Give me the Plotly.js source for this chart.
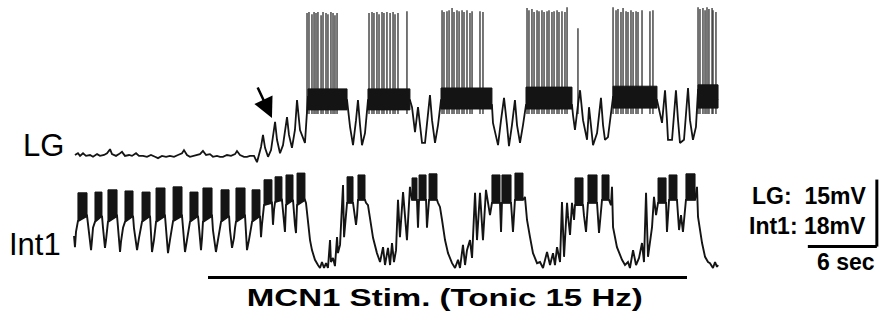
<!DOCTYPE html>
<html><head><meta charset="utf-8">
<script src="https://cdn.plot.ly/plotly-3.0.1.min.js"></script>
<style>html,body{margin:0;padding:0;background:#fff;}#chart{width:880px;height:324px;}</style>
</head><body><div id="chart"></div>
<script>
// ---------- LG recording: slow membrane potential (time s, relative mV) ----------
const lgTime = [
 0.17,0.43,0.61,0.87,1.13,1.48,1.74,2.09,2.35,2.70,
 2.96,3.22,3.39,3.74,4.00,4.26,4.52,4.87,5.13,5.48,
 5.74,6.09,6.43,6.78,7.13,7.39,7.74,8.09,8.43,8.78,
 9.13,9.48,9.65,9.91,10.17,10.43,10.78,11.04,11.30,11.57,
 11.91,12.17,12.52,12.78,13.04,13.39,13.74,14.09,14.26,14.52,
 14.87,15.13,15.39,15.74,16.00,16.09,16.35,16.52,16.70,16.96,
 17.22,17.57,17.74,18.00,18.26,18.61,18.78,19.04,19.30,19.48,
 19.74,20.17,20.35,20.43,22.17,23.83,24.09,24.35,24.61,24.78,
 24.96,25.13,25.39,25.65,27.48,29.30,29.48,29.74,30.00,30.17,
 30.35,30.61,30.87,31.04,31.22,31.48,31.74,32.00,34.17,36.43,
 36.52,36.96,37.22,37.48,37.74,37.91,38.17,38.43,38.61,38.87,
 39.13,39.39,41.39,43.39,43.48,43.65,43.91,44.09,44.35,44.70,
 44.87,45.04,45.22,45.57,45.74,45.91,46.09,46.26,46.52,46.78,
 46.96,48.87,50.78,51.22,51.48,51.65,51.74,52.09,52.26,52.43,
 52.61,52.78,53.13,53.30,53.48,53.65,53.91,54.17,54.35,55.22,
 56.09];
const lgVolt = [
 0.0,0.4,-0.2,0.4,-0.2,0.0,-0.4,0.2,-0.2,0.0,
 0.4,1.3,0.2,-0.2,0.2,0.7,-0.2,0.0,-0.2,0.4,
 -0.2,-0.2,-0.4,0.0,-0.4,-0.7,-0.2,-0.4,-0.2,-0.4,
 0.0,0.4,1.1,0.0,-0.4,-0.2,0.0,0.2,0.9,0.0,
 0.2,-0.4,-0.2,-0.4,-0.4,0.0,-0.2,0.2,0.9,0.0,
 -0.4,-0.4,-0.2,-0.2,-1.6,-0.7,1.8,4.5,1.6,-0.4,
 1.1,7.4,3.4,0.4,2.2,8.5,4.5,1.6,5.6,12.3,
 5.6,2.7,11.2,13.0,12.8,12.3,6.3,2.2,7.8,12.3,
 6.7,2.2,4.9,12.3,12.8,12.3,10.7,5.1,10.7,6.7,
 2.7,2.7,8.9,13.4,7.8,2.7,6.7,12.3,12.8,11.2,
 7.2,2.2,7.8,12.8,6.7,2.0,6.7,12.3,6.7,2.7,
 6.7,11.2,13.0,11.2,8.9,5.6,11.2,14.5,7.8,3.4,
 10.7,6.7,2.2,4.9,8.9,12.8,6.7,3.4,4.0,8.9,
 13.0,13.2,12.3,7.2,14.5,7.8,3.4,3.4,8.9,14.5,
 7.8,2.7,3.4,8.9,15.0,7.8,3.4,6.3,14.5,13.4,
 12.3];

// LG burst plateaus (dense firing band)
const lgBurstOn  = [20.43, 25.65, 32.00, 39.39, 46.96, 54.35];
const lgBurstOff = [23.83, 29.30, 36.43, 43.39, 50.78, 56.09];
const lgBandHigh = [14.8, 14.8, 15.0, 15.2, 15.4, 15.7];
const lgBandLow  = [10.1, 10.1, 10.3, 10.3, 10.5, 10.5];

// LG action potentials (time s, peak mV)
const lgSpikeTime = [
 20.35,20.52,20.78,20.96,21.13,21.30,21.57,21.74,22.00,22.17,22.43,22.61,22.78,22.96,
 25.74,26.00,26.17,26.43,26.61,26.87,27.04,27.30,27.57,27.83,28.00,28.26,29.04,
 32.09,32.26,32.52,32.70,32.96,33.13,33.39,33.57,33.83,34.00,34.26,34.52,34.70,35.39,35.65,
 39.48,39.65,39.91,40.09,40.35,40.52,40.78,40.96,41.22,41.39,41.65,41.83,42.09,42.26,42.52,42.78,42.96,43.91,
 46.96,47.22,47.39,47.65,47.83,48.09,48.26,48.52,48.70,48.96,49.13,49.48,50.17,50.43,
 54.35,54.52,54.78,54.96,55.13,55.30,55.57,55.65,55.91];
const lgSpikePeak = [
 31.8,32.0,31.5,32.0,31.8,32.0,31.3,32.0,31.8,31.5,32.0,31.8,31.3,31.8,
 31.8,32.0,31.8,32.0,31.5,32.0,31.8,32.0,31.8,32.0,31.5,31.8,32.2,
 32.4,32.0,32.2,32.4,32.9,32.0,32.4,32.2,32.4,32.0,32.4,31.8,32.2,32.2,32.0,
 32.9,32.4,32.7,32.0,32.4,32.2,32.4,32.0,32.2,32.4,32.0,32.2,32.4,32.0,32.2,32.0,33.1,28.4,
 33.1,32.4,32.7,32.0,32.9,32.2,32.0,32.4,32.0,32.2,32.0,32.4,32.2,32.4,
 33.1,32.7,32.9,32.4,33.1,32.7,32.9,32.4,32.0];
const lgSpikeFoot = 9.2;

// ---------- Int1 recording (time s, relative mV) ----------
const int1Time = [
 0.09,0.17,0.26,0.35,0.43,1.22,1.30,1.48,1.57,1.65,
 1.74,1.91,2.52,2.61,2.70,2.78,2.87,2.96,3.04,3.83,
 3.91,4.00,4.09,4.17,4.35,4.52,5.22,5.30,5.48,5.57,
 5.74,5.91,6.00,6.70,6.78,6.87,7.04,7.13,7.22,8.00,
 8.09,8.26,8.43,8.61,8.70,9.48,9.57,9.74,9.91,10.09,
 10.17,10.87,10.96,11.13,11.22,11.30,12.09,12.17,12.43,12.61,
 12.78,12.87,13.57,13.65,13.83,14.00,14.09,14.17,14.96,15.04,
 15.13,15.30,15.48,15.57,16.26,16.35,16.43,16.61,17.30,17.39,
 17.48,17.57,18.17,18.35,18.43,18.52,19.13,19.30,19.39,19.48,
 20.17,20.26,20.43,20.61,20.78,21.04,21.30,21.48,21.65,21.83,
 22.00,22.17,22.35,22.43,22.61,22.78,22.96,23.04,23.22,23.48,
 23.57,23.74,23.83,24.35,24.52,24.61,24.70,24.78,25.39,25.48,
 25.65,25.83,26.09,26.43,26.70,26.96,27.13,27.39,27.57,27.74,
 27.91,28.09,28.26,28.43,28.70,29.04,29.30,29.48,29.91,30.00,
 30.09,30.70,30.78,30.96,31.65,31.74,31.91,32.09,32.35,32.61,
 32.96,33.22,33.48,33.65,33.91,34.09,34.26,34.52,34.70,34.96,
 35.13,35.39,35.65,35.91,36.09,36.26,36.43,37.13,37.22,37.30,
 38.09,38.26,38.43,39.13,39.30,39.48,39.74,40.00,40.35,40.61,
 40.87,41.22,41.48,41.74,41.91,42.09,42.35,42.52,42.70,42.96,
 43.04,43.22,43.39,43.57,43.65,44.35,44.43,44.61,44.78,45.57,
 45.74,46.00,46.61,46.78,46.87,46.96,47.30,47.74,48.00,48.26,
 48.43,48.70,48.96,49.22,49.48,49.65,49.83,50.00,50.35,50.52,
 50.70,50.87,51.57,51.65,51.83,52.52,52.70,52.87,53.04,53.30,
 54.09,54.26,54.35,54.70,54.96,55.22,55.39,55.65,55.83,56.00,
 56.09];
const int1Volt = [
 8.6,5.6,9.7,11.8,12.6,14.0,11.6,6.2,4.8,7.5,
 10.8,12.4,14.0,10.8,6.7,5.4,7.5,10.8,12.4,14.0,
 10.2,6.2,4.3,7.0,10.8,12.4,14.0,10.8,6.2,4.8,
 8.1,11.3,12.4,14.0,10.2,4.3,7.5,10.8,12.4,14.0,
 10.2,4.0,7.5,10.8,12.6,14.0,10.2,4.3,7.5,11.0,
 12.4,14.0,10.2,4.8,8.1,12.4,14.0,10.2,4.3,7.5,
 10.8,12.4,14.0,10.2,5.4,8.1,10.8,12.4,14.0,9.7,
 4.8,7.5,10.8,12.4,14.0,8.3,11.6,16.9,17.5,11.6,
 15.6,17.7,18.3,11.6,9.7,16.9,18.3,11.6,9.4,16.9,
 18.3,17.5,11.6,7.5,4.8,2.2,0.8,0.0,1.6,0.0,
 1.3,0.0,7.5,1.6,2.7,0.5,8.3,4.0,6.2,22.3,
 8.3,14.2,17.5,17.5,14.2,11.6,14.2,18.3,18.3,17.5,
 16.9,12.9,8.1,4.0,1.6,5.6,0.8,5.4,0.8,6.7,
 1.6,4.8,18.3,8.3,20.4,7.5,21.8,18.3,18.3,10.8,
 18.3,18.3,10.8,18.3,18.3,17.5,16.4,12.9,7.5,4.0,
 1.3,0.0,2.2,0.0,6.2,0.8,4.8,7.5,2.7,20.2,
 7.5,20.2,7.5,21.0,16.9,14.2,17.5,17.5,9.7,17.5,
 17.5,9.7,18.3,18.3,19.1,12.9,8.3,4.0,1.3,1.6,
 0.0,4.3,0.8,4.0,0.8,5.6,1.6,17.7,3.0,17.5,
 14.2,8.9,17.5,12.9,16.9,16.9,14.2,9.7,17.5,17.5,
 9.4,18.3,18.3,16.9,21.8,11.0,5.6,2.2,0.8,1.6,
 0.0,4.8,0.8,2.7,6.7,1.6,20.2,3.0,11.0,19.1,
 14.2,17.5,17.5,9.7,18.3,18.3,10.2,14.2,9.7,18.3,
 18.3,21.8,13.7,6.7,3.0,1.6,1.3,0.0,1.6,0.3,
 0.8];

// Int1 bursts (dense spiking blocks)
const int1BurstOn  = [0.43,1.91,3.04,4.52,6.00,7.22,8.70,10.17,11.30,12.87,14.17,15.57,16.61,17.57,18.52,19.48,
 23.83,24.78,29.48,30.09,30.96,36.43,37.30,38.43,43.65,44.78,46.00,50.87,51.83,53.30];
const int1BurstOff = [1.22,2.52,3.83,5.22,6.70,8.00,9.48,10.87,12.09,13.57,14.96,16.26,17.30,18.17,19.13,20.17,
 24.35,25.39,29.91,30.70,31.65,37.13,38.09,39.13,44.35,45.57,46.61,51.57,52.52,54.09];
const int1BurstPeak = [20.2,20.4,21.0,20.7,20.4,21.5,21.8,20.4,21.5,21.0,21.5,21.0,23.7,24.5,25.0,25.5,
 24.5,25.0,24.2,25.0,25.3,25.0,25.0,25.5,24.2,25.0,25.0,24.2,25.0,25.3];
const int1BurstFloorOn = [12.6,12.4,12.4,12.4,12.4,12.4,12.6,12.4,12.4,12.4,12.4,12.4,16.9,17.7,16.9,16.9,
 17.5,18.3,18.3,18.3,18.3,17.5,17.5,18.3,16.9,17.5,18.3,17.5,18.3,18.3];
const int1BurstFloorOff = [14.0,14.0,14.0,14.0,14.0,14.0,14.0,14.0,14.0,14.0,14.0,14.0,17.5,18.3,18.3,18.3,
 17.5,18.3,18.3,18.3,18.3,17.5,17.5,18.3,16.9,17.5,18.3,17.5,18.3,18.3];

// Stimulus and scale bars
const stimOn = 11.74, stimOff = 53.39;
const scaleSec = 6, scaleLG = 15, scaleInt1 = 18;

function same(a,b,n){ if(a.length!==b.length) throw new Error(n+': '+a.length+' vs '+b.length); }
same(lgTime,lgVolt,'lg'); same(lgSpikeTime,lgSpikePeak,'lgSpike');
same(int1Time,int1Volt,'int1'); same(int1BurstOn,int1BurstOff,'b1'); same(int1BurstOn,int1BurstPeak,'b2');
same(int1BurstOn,int1BurstFloorOn,'b3'); same(int1BurstOn,int1BurstFloorOff,'b4');

const ink = '#141414';

const bandX=[], bandY=[];
lgBurstOn.forEach((on,i)=>{
 const off=lgBurstOff[i];
 bandX.push(on,off,off,on,on,null); bandY.push(lgBandLow[i],lgBandLow[i],lgBandHigh[i],lgBandHigh[i],lgBandLow[i],null);
});
const spX=[], spY=[];
lgSpikeTime.forEach((t,i)=>{ spX.push(t,t,null); spY.push(lgSpikeFoot,lgSpikePeak[i],null); });
const blkX=[], blkY=[];
int1BurstOn.forEach((on,i)=>{ const off=int1BurstOff[i]; blkX.push(on,on,off,off,on,null); blkY.push(int1BurstFloorOn[i],int1BurstPeak[i],int1BurstPeak[i],int1BurstFloorOff[i],int1BurstFloorOn[i],null); });

const traces = [
 {x:spX,y:spY,mode:'lines',line:{color:'#3c3c3c',width:1.4},yaxis:'y',hoverinfo:'skip'},
 {x:lgTime,y:lgVolt,mode:'lines',line:{color:ink,width:1.8},yaxis:'y',hoverinfo:'skip'},
 {x:bandX,y:bandY,mode:'lines',fill:'toself',fillcolor:ink,line:{color:ink,width:1},yaxis:'y',hoverinfo:'skip'},
 {x:blkX,y:blkY,mode:'lines',fill:'toself',fillcolor:ink,line:{color:ink,width:1},yaxis:'y2',hoverinfo:'skip'},
 {x:int1Time,y:int1Volt,mode:'lines',line:{color:ink,width:1.9},yaxis:'y2',hoverinfo:'skip'}
];

const pxPerSec = 11.5, x0px = 73;
const lgZeroPx = 155, lgPxPerMv = 67/scaleLG;
const i1ZeroPx = 268, i1PxPerMv = 67/scaleInt1;
const W=880,H=324;
const barT = 69.9, barV = -20.5;
const stimV = -2.55;

const font = 'Liberation Sans, Arial, Helvetica, sans-serif';
const layout = {
 width:W,height:H,margin:{l:0,r:0,t:0,b:0},paper_bgcolor:'#fff',plot_bgcolor:'#fff',showlegend:false,
 xaxis:{range:[-x0px/pxPerSec,(W-x0px)/pxPerSec],visible:false,fixedrange:true},
 yaxis:{range:[(lgZeroPx-H)/lgPxPerMv,lgZeroPx/lgPxPerMv],visible:false,fixedrange:true},
 yaxis2:{range:[(i1ZeroPx-H)/i1PxPerMv,i1ZeroPx/i1PxPerMv],visible:false,overlaying:'y',fixedrange:true},
 shapes:[
  {type:'line',xref:'x',yref:'y2',x0:stimOn,x1:stimOff,y0:stimV,y1:stimV,line:{color:'#000',width:3}},
  {type:'line',xref:'x',yref:'y',x0:barT-scaleSec,x1:barT,y0:barV,y1:barV,line:{color:'#000',width:3}},
  {type:'line',xref:'x',yref:'y',x0:barT,x1:barT,y0:barV,y1:barV+scaleLG,line:{color:'#000',width:3}}
 ],
 annotations:[
  {text:'LG',xref:'paper',yref:'paper',x:66/W,y:1-145/H,xanchor:'right',yanchor:'middle',showarrow:false,font:{family:font,size:31,color:'#000'}},
  {text:'Int1',xref:'paper',yref:'paper',x:63/W,y:1-244/H,xanchor:'right',yanchor:'middle',showarrow:false,font:{family:font,size:31,color:'#000'}},
  {text:'LG:\u00a0\u00a015mV',xref:'paper',yref:'paper',x:868/W,y:1-196/H,xanchor:'right',yanchor:'middle',showarrow:false,font:{family:font,size:23,color:'#000',weight:700}},
  {text:'Int1: 18mV',xref:'paper',yref:'paper',x:868/W,y:1-226/H,xanchor:'right',yanchor:'middle',showarrow:false,font:{family:font,size:23,color:'#000',weight:700}},
  {text:'6 sec',xref:'paper',yref:'paper',x:846/W,y:1-262/H,xanchor:'center',yanchor:'middle',showarrow:false,font:{family:font,size:23,color:'#000',weight:700}},
  {text:'MCN1 Stim. (Tonic 15 Hz)',xref:'paper',yref:'paper',x:445/W,y:1-297/H,xanchor:'center',yanchor:'middle',showarrow:false,font:{family:font,size:24,color:'#000',weight:700}},
  {text:'',xref:'x',yref:'y',x:17.30,y:8.3,ax:-15,ay:-32,showarrow:true,arrowhead:2,arrowsize:1.6,arrowwidth:2.5,arrowcolor:'#000'}
 ]
};

Plotly.newPlot('chart',traces,layout,{staticPlot:true,displayModeBar:false}).then(()=>{
 document.querySelectorAll('.annotation-text').forEach(el=>{
  if(el.textContent.indexOf('MCN1')===0){ el.setAttribute('textLength','396'); el.setAttribute('lengthAdjust','spacingAndGlyphs'); }
 });
});
</script></body></html>
